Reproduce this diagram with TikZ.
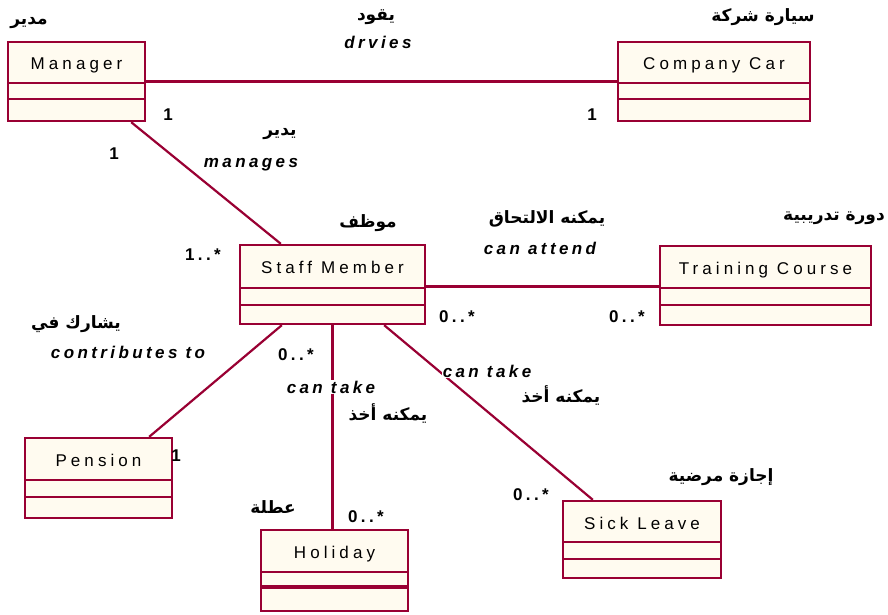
\documentclass[tikz,border=0pt]{standalone}
\usepackage{fontspec}
\setmainfont{Liberation Sans}
\newfontfamily\boxfont[LetterSpace=24]{Liberation Sans}
\newfontfamily\rolefont[LetterSpace=20]{Liberation Sans}
\newfontfamily\arabicfont[Script=Arabic]{DejaVu Sans}
\TeXXeTstate=1
\usetikzlibrary{positioning,calc,fit}
\definecolor{umlline}{RGB}{153,0,51}
\definecolor{umlfill}{RGB}{255,251,240}
\newcommand{\artxt}[1]{{\arabicfont\bfseries\beginR #1\endR}}

\begin{document}
\begin{tikzpicture}[x=1pt,y=-1pt,
  classbox/.style={draw=umlline,fill=umlfill,line width=2.4pt,inner sep=0pt},
  assoc/.style={draw=umlline,line width=2.2pt},
  cname/.style={font=\boxfont\fontsize{17}{20}\selectfont,anchor=base},
  role/.style={font=\rolefont\fontsize{17}{20}\selectfont\bfseries\itshape,inner sep=1pt},
  mult/.style={font=\rolefont\fontsize{17}{20}\selectfont\bfseries,inner sep=0pt},
  artext/.style={font=\fontsize{17}{20}\selectfont,inner sep=0pt}]
\useasboundingbox (0,0) rectangle (888,615);
% Classes: name/left/top/right/bottom/first line/second line/title
\foreach \nm/\xa/\ya/\xb/\yb/\la/\lb/\ttl in {
  mgr/8/42/145/121/83/99/Manager,
  car/618/42/810/121/83/99/Company Car,
  staff/240/245/425/324/288/305/Staff Member,
  course/660/246/871/325/288/305/Training Course,
  pension/25/438/172/518/480/497/Pension,
  holiday/261/530/408/611/572/587/Holiday,
  sick/563/501/721/578/542/559/Sick Leave}{
  \node[classbox,fit={(\xa,\ya) (\xb,\yb)}] (\nm) {};
  \draw[umlline,line width=2.4pt] (\xa,\la) -- (\xb,\la) (\xa,\lb) -- (\xb,\lb);
  \node[cname] (\nm-title) at ({(\xa+\xb)/2},{\ya+28}) {\ttl};
}
\draw[umlline,line width=3.5pt] (261,587) -- (408,587);
% Associations
\draw[assoc] (mgr.east) -- (car.west);
\draw[assoc] ([xshift=-15pt]mgr.south east) -- ([xshift=42pt]staff.north west);
\draw[assoc] ([yshift=-2pt]staff.east) -- ([yshift=-2pt]staff.east -| course.west);
\draw[assoc] ([xshift=43pt]staff.south west) -- ([xshift=-24pt]pension.north east);
\draw[assoc] (staff.south) -- (staff.south |- holiday.north);
\draw[assoc] ([xshift=-42pt]staff.south east) -- ([xshift=31pt]sick.north west);
% Class names in Arabic
\node[artext] (mgr-ar) at (29,23) {\artxt{مدير}};
\node[artext] (car-ar) at (763,17) {\artxt{سيارة شركة}};
\node[artext] (staff-ar) at (368,223) {\artxt{موظف}};
\node[artext] (course-ar) at (834,218) {\artxt{دورة تدريبية}};
\node[artext] (holiday-ar) at (273,507) {\artxt{عطلة}};
\node[artext] (sick-ar) at (721,477) {\artxt{إجازة مرضية}};
% Roles
\node[artext] (drives-ar) at (376,17) {\artxt{يقود}};
\node[role] (drives) at (378,42) {drvies};
\node[artext] (manages-ar) at (280,134) {\artxt{يدير}};
\node[role] (manages) at (251,165) {manages};
\node[artext] (attend-ar) at (547,219) {\artxt{يمكنه الالتحاق}};
\node[role] (attend) at (540,248) {can attend};
\node[artext] (contrib-ar) at (76,324) {\artxt{يشارك في}};
\node[role] (contrib) at (128,352) {contributes to};
\node[role,fill=white] (take1) at (331,387) {can take};
\node[artext] (take1-ar) at (388,413) {\artxt{يمكنه أخذ}};
\node[role,fill=white] (take2) at (487,371) {can take};
\node[artext] (take2-ar) at (561,395) {\artxt{يمكنه أخذ}};
% Multiplicities
\node[mult] (m-mgr-car) at (168,115) {1};
\node[mult] (m-car) at (592,115) {1};
\node[mult] (m-mgr) at (114,154) {1};
\node[mult] (m-staff-mgr) at (203,255) {1..*};
\node[mult] (m-staff-course) at (457,317) {0..*};
\node[mult] (m-course) at (627,317) {0..*};
\node[mult] (m-staff-pen) at (296,355) {0..*};
\node[mult] (m-pension) at (176,456) {1};
\node[mult] (m-holiday) at (366,517) {0..*};
\node[mult] (m-sick) at (531,495) {0..*};
\end{tikzpicture}
\end{document}
